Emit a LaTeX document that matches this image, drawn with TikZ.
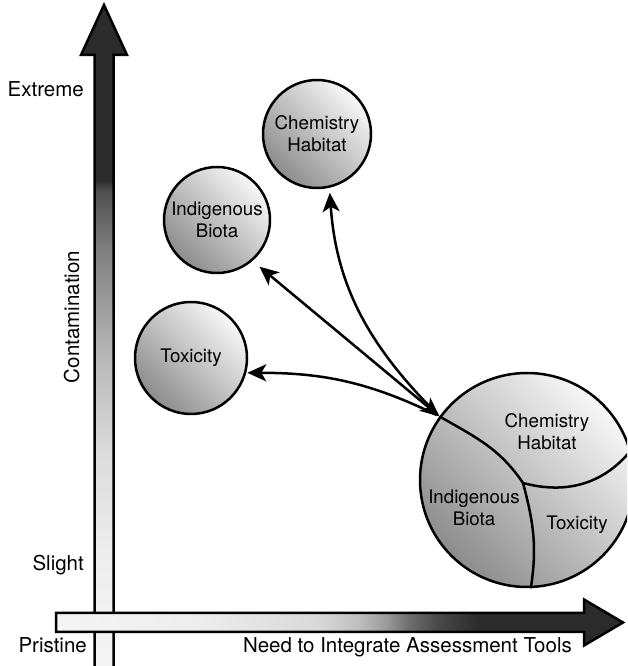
\documentclass[tikz,border=0pt]{standalone}
\usepackage{fontspec}
\setmainfont{TeX Gyre Heros}
\usetikzlibrary{arrows.meta}

\newcommand{\circlefont}{\fontsize{18.7}{22}\selectfont}
\newcommand{\axisfont}{\fontsize{20.5}{24}\selectfont}

\pgfdeclareverticalshading{contamshade}{100bp}{gray(0bp)=(0.96); gray(25bp)=(0.96); gray(33.8bp)=(0.93); gray(41.3bp)=(0.86); gray(48.9bp)=(0.71); gray(56.5bp)=(0.50); gray(61bp)=(0.31); gray(61.8bp)=(0.17); gray(100bp)=(0.17)}
\pgfdeclarehorizontalshading{needshade}{100bp}{gray(0bp)=(0.96); gray(25bp)=(0.96); gray(37.6bp)=(0.93); gray(48.1bp)=(0.85); gray(51.6bp)=(0.75); gray(54.2bp)=(0.60); gray(56bp)=(0.44); gray(58.6bp)=(0.29); gray(62.3bp)=(0.17); gray(100bp)=(0.17)}

\tikzset{
  axisline/.style={draw=black, line width=2.5pt, line join=miter},
  axislabel/.style={font=\axisfont, inner sep=0pt},
  ball/.style={circle, draw=black, line width=2.5pt, minimum size=#1, inner sep=0pt,
    align=center, font=\circlefont, top color=black!3, bottom color=black!45, shading angle=-45},
  zone/.style={align=center, font=\circlefont, inner sep=0pt},
  seam/.style={line width=2.5pt},
  link/.style={line width=2.5pt},
  tip/.tip={Stealth[length=19pt, width=17pt, inset=5pt]}
}

\begin{document}
\begin{tikzpicture}[x=1pt, y=1pt]
  \useasboundingbox (0,0) rectangle (627,666);
  \clip (0,0) rectangle (627,666);

  % axes
  \shadedraw[shading=contamshade, axisline] (94.5,-3) -- (94.5,611) -- (81,611) -- (104,661)
    -- (127,611) -- (113.5,611) -- (113.5,-3) -- cycle;
  \shadedraw[shading=needshade, axisline] (56,34) -- (584,34) -- (584,20.5) -- (623,43.5)
    -- (584,66.5) -- (584,53) -- (56,53) -- cycle;

  \node[axislabel, anchor=base east] (extreme) at (84,569) {Extreme};
  \node[axislabel, anchor=base, rotate=90] (contam) at (79,349) {Contamination};
  \node[axislabel, anchor=base east] (slight) at (84,95) {Slight};
  \node[axislabel, anchor=base east] (pristine) at (87,13) {Pristine};
  \node[axislabel, anchor=base east] (need) at (572,13) {Need to Integrate Assessment Tools};

  % single tools
  \node[ball=112pt] (tox) at (191,308) {Toxicity};
  \node[ball=106pt] (biota) at (217,446) {Indigenous\\Biota};
  \node[ball=108pt] (chem) at (317,532) {Chemistry\\Habitat};

  % integrated tools
  \node[ball=214pt] (big) at (527,186) {};
  \coordinate (hub) at (big.144);
  \coordinate (jn) at (523,183);
  \draw[seam] (hub) to[out=-30, in=124] (jn);
  \draw[seam] (jn) to[out=-15, in=231] (big.16);
  \draw[seam] (jn) to[out=-75, in=81] (big.-88);

  \node[zone] (bigchem) at (547,234) {Chemistry\\Habitat};
  \node[zone] (bigbiota) at (474,158) {Indigenous\\Biota};
  \node[zone] (bigtox) at (577,141) {Toxicity};

  % links
  \draw[link, -tip, shorten <=3pt, shorten >=1pt] (hub) to[out=154, in=0] (tox.-15);
  \draw[link, -tip, shorten <=3pt, shorten >=5pt] (hub) to[out=135, in=-86] (chem.-77);
  \draw[link, tip-tip, shorten >=9pt] (hub) -- (biota.-49);
\end{tikzpicture}
\end{document}
